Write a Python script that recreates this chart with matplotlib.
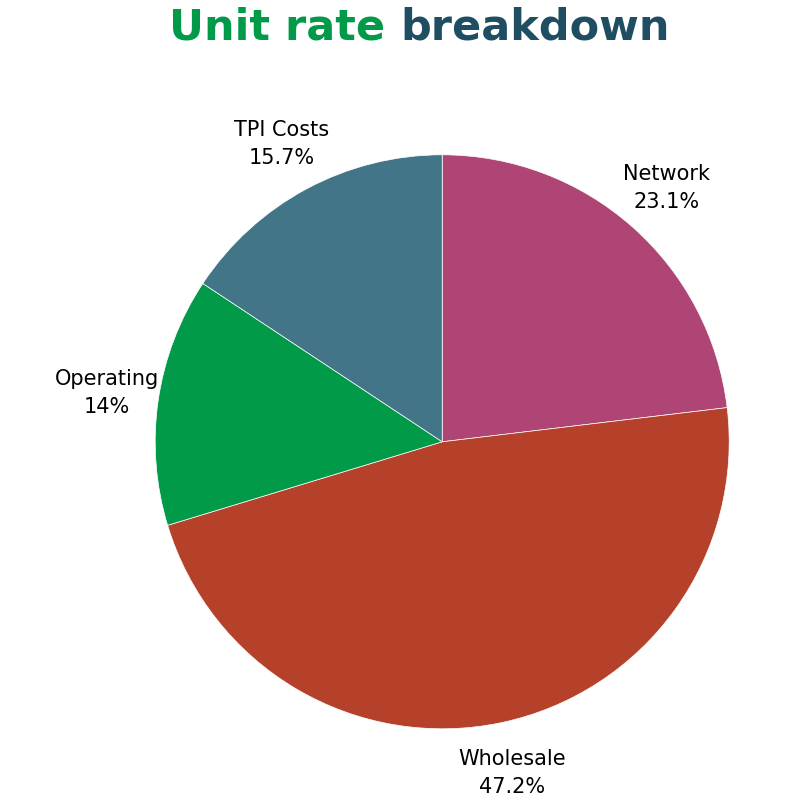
import matplotlib
matplotlib.use("Agg")
import matplotlib.pyplot as plt

categories = ["Network", "Wholesale", "Operating", "TPI Costs"]
values = [23.1, 47.2, 14, 15.7]
value_labels = ["23.1%", "47.2%", "14%", "15.7%"]
colors = ["#AE4574", "#B5412A", "#009A49", "#427587"]

fig = plt.figure(figsize=(8, 8), dpi=100)
ax = fig.add_axes([0.194, 0.089, 0.7175, 0.7175])
labels = [f"{c}\n{v}" for c, v in zip(categories, value_labels)]
wedges, texts = ax.pie(values, colors=colors, startangle=90, counterclock=False,
                       labels=labels, labeldistance=1.18,
                       textprops=dict(fontsize=15, color="black", linespacing=1.5),
                       wedgeprops=dict(linewidth=0.5, edgecolor="white"))
for t in texts:
    t.set_ha("center")
    t.set_va("center")
    t.set_clip_on(False)
ax.set_xlim(-1, 1)
ax.set_ylim(-1, 1)
ax.set_aspect("equal")
ax.axis("off")

fig.text(0.5, 0.965, "Unit rate ", color="#009A49", fontsize=31, fontweight="bold",
         ha="right", va="center")
fig.text(0.5, 0.965, "breakdown", color="#1F4E63", fontsize=31, fontweight="bold",
         ha="left", va="center")

fig.savefig("out.png")
